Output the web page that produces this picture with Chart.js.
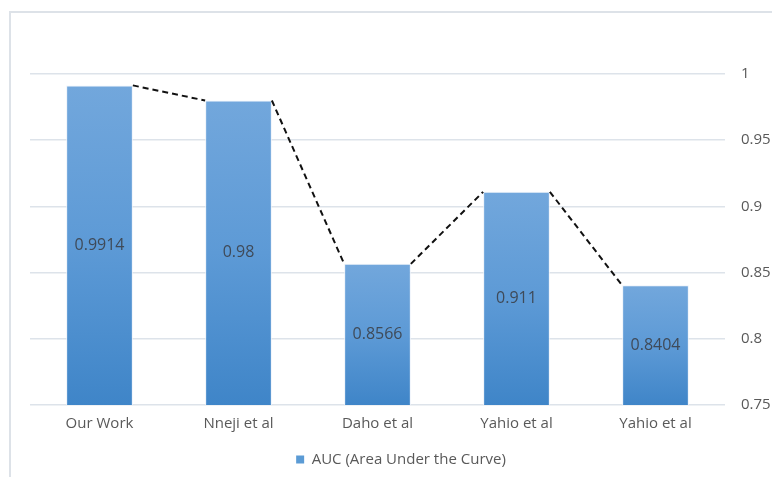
<!DOCTYPE html>
<html>
<head>
<meta charset="utf-8">
<script src="https://cdn.jsdelivr.net/npm/chart.js@4"></script>
<style>
  html, body { margin: 0; padding: 0; background: #fff; overflow: hidden; }
  #frame { position: absolute; left: 9px; top: 11px; width: 800px; height: 520px;
           border: 2px solid #dde2e8; box-sizing: border-box; }
  #wrap { position: absolute; left: 0; top: 0; width: 772px; height: 477px; }
</style>
</head>
<body>
<div id="frame"></div>
<div id="wrap"><canvas id="aucChart" width="772" height="477"></canvas></div>
<script>
// chart data
const categories = ['Our Work', 'Nneji et al', 'Daho et al', 'Yahio et al', 'Yahio et al'];
const aucValues = [0.9914, 0.98, 0.8566, 0.911, 0.8404];
const valueLabels = ['0.9914', '0.98', '0.8566', '0.911', '0.8404'];
const yTicks = [0.75, 0.8, 0.85, 0.9, 0.95, 1];
const seriesName = 'AUC (Area Under the Curve)';

const FONT = "'Open Sans', sans-serif";
const TEXT = '#595959';

// bar fill: light at the top, darker at the bottom, per bar
function barGradient(c) {
    const chart = c.chart;
    if (!chart.chartArea || c.raw === undefined) return '#5b9bd5';
    const y = chart.scales.y;
    const top = y.getPixelForValue(c.raw);
    const g = chart.ctx.createLinearGradient(0, top, 0, y.bottom);
    g.addColorStop(0, '#72a7dc');
    g.addColorStop(0.5, '#5d9ad6');
    g.addColorStop(1, '#3f85c8');
    return g;
}

// dashed connectors + value labels inside bars
const barExtras = {
    id: 'barExtras',
    afterDatasetsDraw(chart) {
        const ctx = chart.ctx;
        const bars = chart.getDatasetMeta(0).data;
        const bottom = chart.scales.y.bottom;
        ctx.save();
        ctx.strokeStyle = '#111';
        ctx.lineWidth = 2;
        ctx.setLineDash([6, 4]);
        for (let i = 0; i < bars.length - 1; i++) {
            const a = bars[i], b = bars[i + 1];
            ctx.beginPath();
            ctx.moveTo(a.x + a.width / 2, a.y);
            ctx.lineTo(b.x - b.width / 2, b.y);
            ctx.stroke();
        }
        ctx.setLineDash([]);
        ctx.fillStyle = '#3f4a58';
        ctx.font = '16px ' + FONT;
        ctx.textAlign = 'center';
        ctx.textBaseline = 'middle';
        bars.forEach((bar, i) => {
            ctx.fillText(valueLabels[i], bar.x, (bar.y + bottom) / 2);
        });
        ctx.restore();
    }
};

const ctx = document.getElementById('aucChart').getContext('2d');
const aucChart = new Chart(ctx, {
    type: 'bar',
    data: {
        labels: categories,
        datasets: [{
            label: seriesName,
            data: aucValues,
            backgroundColor: barGradient,
            borderColor: 'rgba(235,242,250,0.9)',
            borderWidth: 1,
            barPercentage: 0.48,
            categoryPercentage: 1
        }]
    },
    options: {
        responsive: false,
        animation: false,
        layout: { padding: { top: 74, left: 30, right: 0, bottom: 0 } },
        plugins: {
            tooltip: { enabled: false },
            legend: {
                position: 'bottom',
                labels: {
                    color: TEXT,
                    font: { family: FONT, size: 15 },
                    boxWidth: 8,
                    boxHeight: 8,
                    padding: 9,
                    generateLabels: () => [{
                        text: seriesName,
                        fillStyle: '#5b9bd5',
                        strokeStyle: '#5b9bd5',
                        lineWidth: 0,
                        fontColor: TEXT
                    }]
                }
            }
        },
        scales: {
            x: {
                grid: { display: false, drawTicks: false },
                border: { display: false },
                ticks: { color: TEXT, font: { family: FONT, size: 15 }, padding: 10 }
            },
            y: {
                position: 'right',
                min: 0.75,
                max: 1,
                afterBuildTicks: scale => { scale.ticks = yTicks.map(v => ({ value: v })); },
                afterFit: scale => { scale.width = 47; },
                grid: { color: '#dde3ea', lineWidth: 1.5, drawTicks: false },
                border: { display: false },
                ticks: {
                    color: TEXT,
                    font: { family: FONT, size: 15 },
                    padding: 16,
                    callback: v => String(+v.toFixed(2))
                }
            }
        }
    },
    plugins: [barExtras]
});
</script>
</body>
</html>
